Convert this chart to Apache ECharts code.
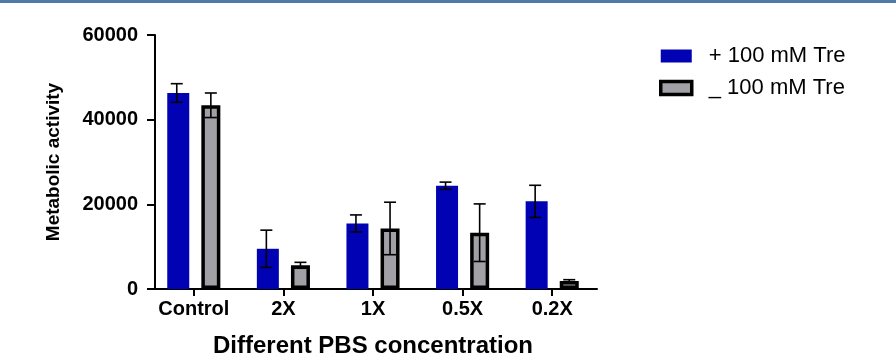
<!DOCTYPE html>
<html>
<head>
<meta charset="utf-8">
<script src="https://cdn.jsdelivr.net/npm/echarts@6/dist/echarts.min.js"></script>
<style>
  html, body { margin: 0; padding: 0; background: #fff; }
  #chart { width: 896px; height: 363px; }
</style>
</head>
<body>
<div id="chart"></div>
<script>
// categories and values
const categories = ["Control", "2X", "1X", "0.5X", "0.2X"];
const withTre = [46300, 9500, 15500, 24400, 20700];
const withTreErr = [2200, 4400, 2000, 850, 3800];
const withoutTre = [43400, 5600, 14300, 13300, 1900];
const withoutTreErr = [2900, 700, 6200, 6800, 300];
const yTicks = [0, 20000, 40000, 60000];

const BAR_W = 22;
const BAR_GAP = 0.55; // fraction of bar width
const half = (BAR_W + BAR_W * BAR_GAP) / 2;

// [index, low, high]
function errData(vals, errs) {
  return vals.map((v, i) => [i, v - errs[i], v + errs[i]]);
}

function errRender(shift) {
  return function (params, api) {
    const i = api.value(0);
    const lo = api.coord([i, api.value(1)]);
    const hi = api.coord([i, api.value(2)]);
    const x = lo[0] + shift;
    const cap = 6;
    const st = { stroke: "#000", lineWidth: 1.6 };
    return {
      type: "group",
      children: [
        { type: "line", shape: { x1: x, y1: lo[1], x2: x, y2: hi[1] }, style: st },
        { type: "line", shape: { x1: x - cap, y1: hi[1], x2: x + cap, y2: hi[1] }, style: st },
        { type: "line", shape: { x1: x - cap, y1: lo[1], x2: x + cap, y2: lo[1] }, style: st },
      ],
    };
  };
}

const chart = echarts.init(document.getElementById("chart"));
const font = "Liberation Sans, Arial, sans-serif";

chart.setOption({
  animation: false,
  textStyle: { fontFamily: font },
  graphic: [
    { type: "rect", left: 0, top: 0, shape: { width: 896, height: 3 }, style: { fill: "#5079aa" } },
  ],
  legend: {
    orient: "vertical",
    left: 654,
    top: 40,
    icon: "rect",
    itemWidth: 31,
    itemHeight: 13,
    itemGap: 10,
    textStyle: { fontSize: 22, color: "#000", padding: [0, 0, 0, 12], fontFamily: font },
    data: [
      { name: "+ 100 mM Tre", itemStyle: { color: "#0202b5", borderWidth: 0 } },
      { name: "_ 100 mM Tre", itemStyle: { color: "#a0a0a6", borderColor: "#000", borderWidth: 3.5 } },
    ],
  },
  grid: { left: 149, width: 448, top: 35, bottom: 74 },
  xAxis: {
    type: "category",
    data: categories,
    name: "Different PBS concentration",
    nameLocation: "middle",
    nameGap: 45,
    nameTextStyle: { fontSize: 24, fontWeight: "bold", color: "#000" },
    axisLine: { lineStyle: { color: "#000", width: 2 } },
    axisTick: { show: true, alignWithLabel: true, interval: 0, length: 7, lineStyle: { width: 2, color: "#000" } },
    axisLabel: { interval: 0, fontSize: 20, fontWeight: "bold", color: "#000", margin: 10 },
  },
  yAxis: {
    type: "value",
    min: yTicks[0],
    max: yTicks[yTicks.length - 1],
    interval: yTicks[1] - yTicks[0],
    offset: -6,
    name: "Metabolic activity",
    nameLocation: "middle",
    nameGap: 92,
    nameTextStyle: { fontSize: 19, fontWeight: "bold", color: "#000" },
    splitLine: { show: false },
    axisLine: { show: true, lineStyle: { color: "#000", width: 2 } },
    axisTick: { show: true, length: 8, lineStyle: { width: 2, color: "#000" } },
    axisLabel: { fontSize: 20, fontWeight: "bold", color: "#000", margin: 17, formatter: (v) => String(v) },
  },
  series: [
    {
      name: "+ 100 mM Tre",
      type: "bar",
      data: withTre,
      barWidth: BAR_W,
      barGap: BAR_GAP * 100 + "%",
      itemStyle: { color: "#0202b5" },
    },
    {
      name: "_ 100 mM Tre",
      type: "bar",
      data: withoutTre,
      barWidth: BAR_W - 3,
      itemStyle: { color: "#a0a0a6", borderColor: "#000", borderWidth: 3.5 },
    },
    {
      type: "custom",
      z: 10,
      renderItem: errRender(-half),
      data: errData(withTre, withTreErr),
      encode: { x: 0, y: [1, 2] },
    },
    {
      type: "custom",
      z: 10,
      renderItem: errRender(half),
      data: errData(withoutTre, withoutTreErr),
      encode: { x: 0, y: [1, 2] },
    },
  ],
});
</script>
</body>
</html>
